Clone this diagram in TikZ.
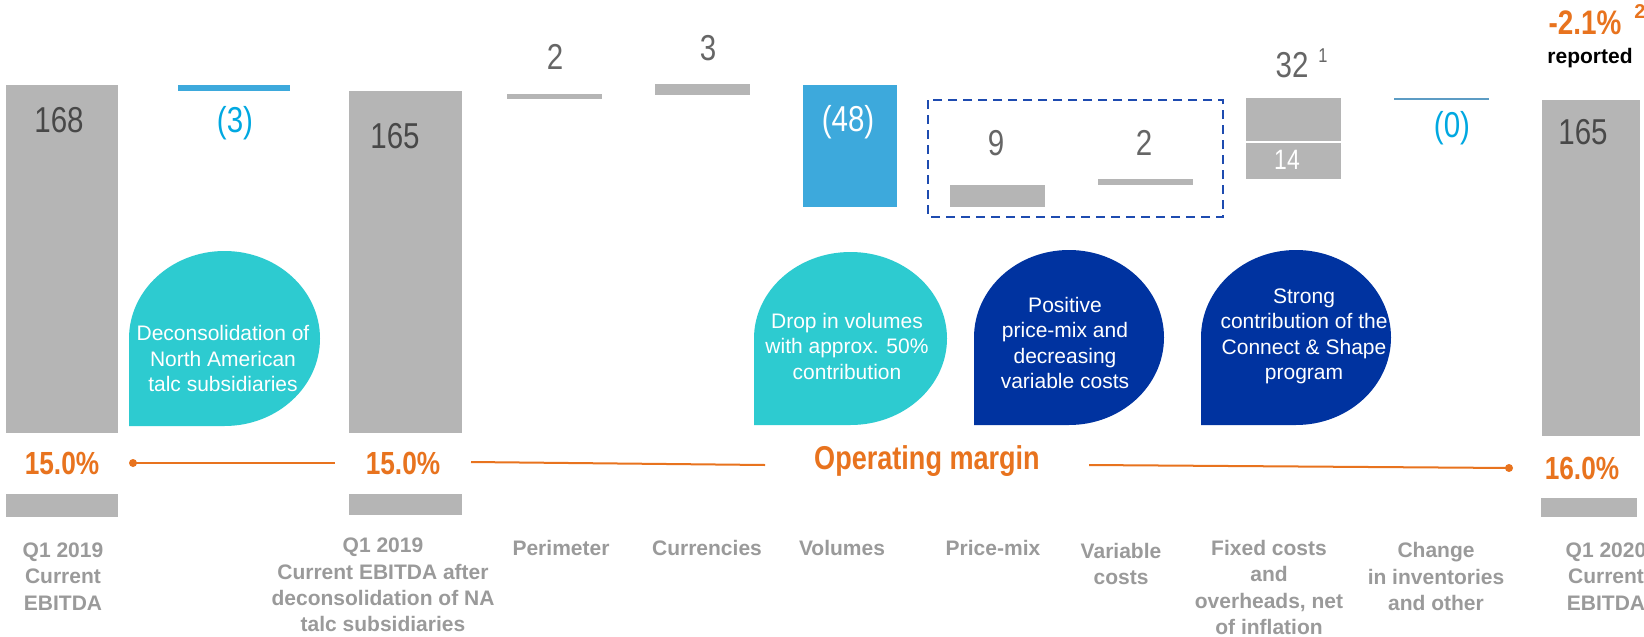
\documentclass[tikz,border=0pt]{standalone}
\usepackage{fontspec}
\setmainfont{Liberation Sans}
\newfontfamily\narrowfont[FakeStretch=0.82]{Liberation Sans}

\definecolor{bargray}{HTML}{B5B5B5}
\definecolor{numdark}{HTML}{484848}
\definecolor{numgray}{HTML}{666666}
\definecolor{negblue}{HTML}{3DA9DC}
\definecolor{negtext}{HTML}{00A8E1}
\definecolor{steel}{HTML}{5C9CC4}
\definecolor{teal}{HTML}{2DCBD0}
\definecolor{navy}{HTML}{0033A0}
\definecolor{dashblue}{HTML}{1E4BB0}
\definecolor{accent}{HTML}{E8731E}
\definecolor{lblgray}{HTML}{9A9A9A}

\begin{document}
\begin{tikzpicture}[x=1pt, y=-1pt,
  num/.style={font={\narrowfont\fontsize{36}{40}\selectfont}, text=numdark, inner sep=0pt},
  numabove/.style={num, text=numgray},
  negnum/.style={num, text=negtext},
  supnum/.style={font={\narrowfont\fontsize{20}{22}\selectfont}, text=numgray, inner sep=0pt},
  pct/.style={font={\narrowfont\bfseries\fontsize{32}{36}\selectfont}, text=accent, inner sep=0pt},
  lbl/.style={font={\bfseries\fontsize{21}{26.3}\selectfont}, text=lblgray, align=center, inner sep=0pt},
  bubtext/.style={font={\fontsize{21}{25.5}\selectfont}, text=white, align=center, inner sep=0pt},
  marginline/.style={draw=accent, line width=2pt},
  dashbox/.style={draw=dashblue, line width=2pt, dash pattern=on 9pt off 6pt}
]
\useasboundingbox (0,0) rectangle (1644,637);
\clip (0,0) rectangle (1644,637);
\fill[white] (0,0) rectangle (1644,637);

% ---- bars ----
\fill[bargray] (6,85) rectangle (118,433);
\fill[bargray] (6,494) rectangle (118,517);
\fill[negblue] (178,85) rectangle (290,91);
\fill[bargray] (349,91) rectangle (462,433);
\fill[bargray] (349,494) rectangle (462,515);
\fill[bargray] (507,94) rectangle (602,98.5);
\fill[bargray] (655,84) rectangle (750,94.5);
\fill[negblue] (803,85) rectangle (897,207);
\fill[bargray] (950,185) rectangle (1045,207);
\fill[bargray] (1098,179) rectangle (1193,185);
\fill[bargray] (1246,98) rectangle (1341,179);
\draw[white, line width=1.5pt] (1246,142) -- (1341,142);
\draw[steel, line width=2pt] (1394,99) -- (1489,99);
\fill[bargray] (1542,100) rectangle (1640,436);
\fill[bargray] (1541,498) rectangle (1637,517);

% ---- price-mix / variable costs group ----
\draw[dashbox] (928,100) rectangle (1223,217);

% ---- values ----
\node[num] (v168) at (59,120) {168};
\node[negnum] (v3) at (235,123) {(3)};
\node[num] (v165a) at (395,136) {165};
\node[numabove] (vper) at (555,57) {2};
\node[numabove] (vcur) at (708,48) {3};
\node[num, text=white] (v48) at (848,122) {(48)};
\node[numabove] (vpm) at (996,143) {9};
\node[numabove] (vvar) at (1144,143) {2};
\node[numabove] (vfix) at (1292,65) {32};
\node[supnum] (vfixsup) at (1323,56) {1};
\node[font={\narrowfont\fontsize{28}{30}\selectfont}, text=white, inner sep=0pt] (v14) at (1287,160) {14};
\node[negnum] (vchg) at (1452,128) {(0)};
\node[num] (v165b) at (1583,132) {165};
\node[font={\narrowfont\bfseries\fontsize{34}{36}\selectfont}, text=accent, inner sep=0pt] (growth) at (1585,23) {-2.1\%};
\node[font={\bfseries\fontsize{20}{22}\selectfont}, text=accent, inner sep=0pt] (growthsup) at (1640,12) {2};
\node[font={\bfseries\fontsize{21}{24}\selectfont}, text=black, inner sep=0pt] (reported) at (1590,58) {reported};

% ---- callouts ----
\fill[teal] (129,426) -- (129,338.5)
  arc[start angle=180, end angle=0, x radius=95.5pt, y radius=87.5pt]
  arc[start angle=0, end angle=-90, x radius=95.5pt, y radius=87.5pt] -- cycle;
\fill[teal] (754,425) -- (754,338.5)
  arc[start angle=180, end angle=0, x radius=96.5pt, y radius=86.5pt]
  arc[start angle=0, end angle=-90, x radius=96.5pt, y radius=86.5pt] -- cycle;
\fill[navy] (974,425) -- (974,337.5)
  arc[start angle=180, end angle=0, x radius=95pt, y radius=87.5pt]
  arc[start angle=0, end angle=-90, x radius=95pt, y radius=87.5pt] -- cycle;
\fill[navy] (1201,425) -- (1201,337.5)
  arc[start angle=180, end angle=0, x radius=95pt, y radius=87.5pt]
  arc[start angle=0, end angle=-90, x radius=95pt, y radius=87.5pt] -- cycle;

\node[bubtext] (b1) at (223,358.5) {Deconsolidation of\\North American\\talc subsidiaries};
\node[bubtext] (b2) at (847,346) {Drop in volumes\\with approx. 50\%\\contribution};
\node[bubtext] (b3) at (1065,343) {Positive\\price-mix and\\decreasing\\variable costs};
\node[bubtext] (b4) at (1304,336.5) {Strong\\contribution of the\\Connect \& Shape\\program};

% ---- operating margin ----
\node[pct] (pctA) at (62,463) {15.0\%};
\node[pct] (pctB) at (403,463) {15.0\%};
\node[pct, font={\narrowfont\bfseries\fontsize{33}{36}\selectfont}] (opm) at (927,461) {Operating margin};
\node[pct] (pctC) at (1582,468) {16.0\%};
\coordinate (m1) at (133,463);
\coordinate (m2) at (335,463);
\coordinate (m3) at (471,462);
\coordinate (m4) at (765,465);
\coordinate (m5) at (1089,465);
\coordinate (m6) at (1509,468);
\draw[marginline] (m1) -- (m2);
\draw[marginline] (m3) -- (m4);
\draw[marginline] (m5) -- (m6);
\fill[accent] (m1) circle (4pt);
\fill[accent] (m6) circle (4pt);

% ---- category labels ----
\node[lbl] (l1) at (63,576.5) {Q1 2019\\Current\\EBITDA};
\node[lbl] (l3) at (383,585) {Q1 2019\\Current EBITDA after\\deconsolidation of NA\\talc subsidiaries};
\node[lbl] (l4) at (561,548) {Perimeter};
\node[lbl] (l5) at (707,548) {Currencies};
\node[lbl] (l6) at (842,548) {Volumes};
\node[lbl] (l7) at (993,548) {Price-mix};
\node[lbl] (l8) at (1121,564) {Variable\\costs};
\node[lbl] (l9) at (1269,587.5) {Fixed costs\\and\\overheads, net\\of inflation};
\node[lbl] (l10) at (1436,576.5) {Change\\in inventories\\and other};
\node[lbl] (l11) at (1606,576.5) {Q1 2020\\Current\\EBITDA};
\end{tikzpicture}
\end{document}
